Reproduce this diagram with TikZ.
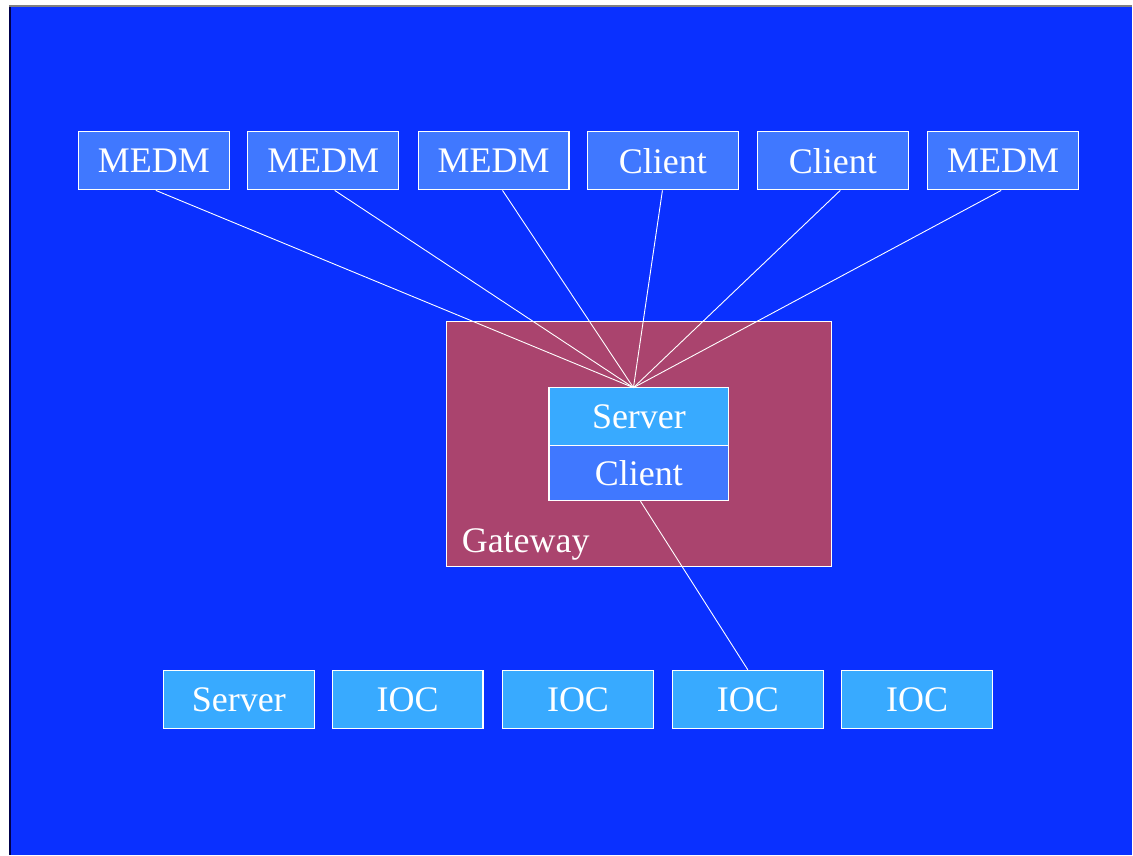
\documentclass[tikz,border=0pt]{standalone}
\usepackage{fontspec}
\setmainfont{Liberation Serif}
\definecolor{bgblue}{RGB}{10,48,255}
\definecolor{boxblue}{RGB}{64,120,255}
\definecolor{boxcyan}{RGB}{56,170,255}
\definecolor{gwred}{RGB}{170,68,110}
\tikzset{
  box/.style={draw=white, line width=1.2pt, minimum width=151pt, minimum height=58pt,
    inner sep=0pt, text=white, font=\fontsize{36}{36}\selectfont},
  topbox/.style={box, fill=boxblue},
  lowbox/.style={box, fill=boxcyan},
  wire/.style={draw=white, line width=0.9pt}
}
\begin{document}
\begin{tikzpicture}[x=1pt, y=-1pt]
  % page and slide background
  \fill[white] (0,0) rectangle (1133,856);
  \fill[bgblue] (10,7) rectangle (1133,856);
  \draw[gray, line width=2pt] (9,6) -- (1133,6);
  \draw[black!70!blue, line width=1.5pt] (10,7) -- (10,856);
  \useasboundingbox (0,0) rectangle (1133,856);

  % client applications
  \node[topbox] (m1) at (154,161) {MEDM};
  \node[topbox] (m2) at (323.5,161) {MEDM};
  \node[topbox] (m3) at (494,161) {MEDM};
  \node[topbox] (c1) at (663.5,161) {Client};
  \node[topbox] (c2) at (833.5,161) {Client};
  \node[topbox] (m4) at (1004,161) {MEDM};

  % gateway
  \node[draw=white, line width=1.2pt, fill=gwred, minimum width=386pt, minimum height=245pt,
        inner sep=0pt] (gw) at (639.5,444.5) {};
  \node[text=white, font=\fontsize{36}{36}\selectfont, anchor=west, inner sep=0pt] (gwlabel)
        at (462,545) {Gateway};
  \node[lowbox, minimum width=180pt, minimum height=58pt] (gws) at (639.5,417) {Server};
  \node[topbox, minimum width=180pt, minimum height=55pt] (gwc) at (639.5,473.5) {Client};
  \coordinate (hub) at (634,388);

  % servers and IOCs
  \node[lowbox] (s1) at (239,700) {Server};
  \node[lowbox] (i1) at (408,700) {IOC};
  \node[lowbox] (i2) at (578.5,700) {IOC};
  \node[lowbox] (i3) at (748.5,700) {IOC};
  \node[lowbox] (i4) at (918,700) {IOC};

  % connections
  \draw[wire] ([xshift=2pt]m1.south) -- (hub);
  \draw[wire] ([xshift=11.5pt]m2.south) -- (hub);
  \draw[wire] ([xshift=9pt]m3.south) -- (hub);
  \draw[wire] ([xshift=-0.5pt]c1.south) -- (hub);
  \draw[wire] ([xshift=7.5pt]c2.south) -- (hub);
  \draw[wire] ([xshift=-2pt]m4.south) -- (hub);
  \draw[wire] ([xshift=1.5pt]gwc.south) -- (i3.north);
\end{tikzpicture}
\end{document}
